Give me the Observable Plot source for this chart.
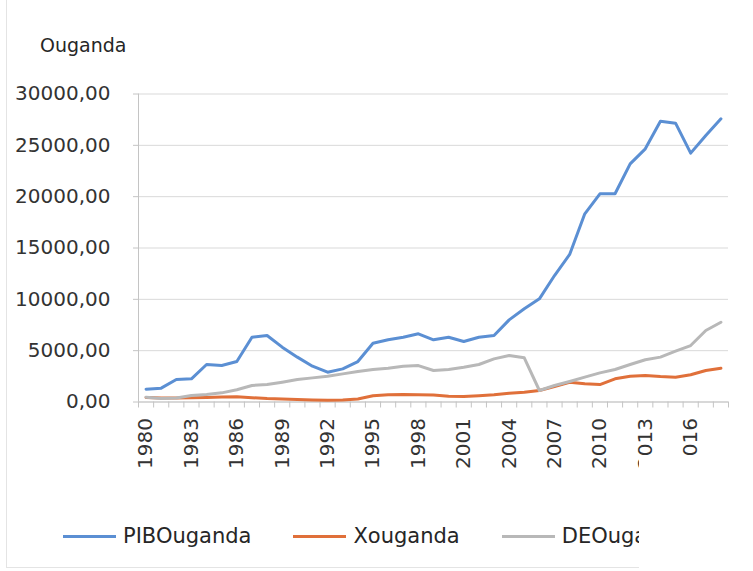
<!DOCTYPE html>
<html>
<head>
<meta charset="utf-8">
<script src="https://cdn.jsdelivr.net/npm/d3@7"></script>
<script src="https://cdn.jsdelivr.net/npm/@observablehq/plot@0.6"></script>
<style>
  html, body { margin: 0; padding: 0; background: #ffffff; }
  #wrap { position: relative; width: 753px; height: 571px; overflow: hidden; font-family: "DejaVu Sans", sans-serif; color: #262626; }
  #frame { position: absolute; left: 6px; top: 0; width: 632px; height: 567px; border-left: 1px solid #e4e4e4; border-bottom: 1px solid #e4e4e4; }
  #title { position: absolute; left: 40px; top: 36px; font-size: 19px; line-height: 1; }
  #chart { position: absolute; left: 0; top: 70px; }
  #legend { position: absolute; left: 63px; top: 521px; white-space: nowrap; display: flex; align-items: center; gap: 42px; font-size: 21px; line-height: 30px; }
  .item { display: flex; align-items: center; }
  .sw { display: inline-block; width: 53px; height: 3px; margin-right: 7px; }
  #mask { position: absolute; left: 639px; top: 456px; width: 114px; height: 115px; background: #ffffff; z-index: 2; }
</style>
</head>
<body>
<div id="wrap">
  <div id="frame"></div>
  <div id="title">Ouganda</div>
  <div id="chart"></div>
  <div id="legend"></div>
  <div id="mask"></div>
</div>
<script>
const years = d3.range(1980, 2019);
const pib = [1250, 1350, 2190, 2260, 3650, 3550, 3940, 6310, 6480, 5340, 4370, 3490, 2900, 3230, 3940, 5730, 6060, 6310, 6640, 6060, 6310, 5890, 6310, 6480, 8000, 9080, 10050, 12320, 14370, 18330, 20280, 20280, 23200, 24660, 27350, 27160, 24240, 25960, 27580];
const xou = [450, 400, 380, 420, 450, 480, 520, 420, 340, 300, 250, 200, 170, 200, 300, 600, 700, 720, 700, 680, 560, 540, 620, 700, 860, 960, 1120, 1510, 1930, 1770, 1700, 2260, 2510, 2580, 2480, 2420, 2650, 3070, 3290];
const deo = [470, 350, 380, 630, 730, 890, 1190, 1610, 1700, 1930, 2190, 2350, 2510, 2740, 2970, 3170, 3290, 3490, 3550, 3070, 3170, 3390, 3650, 4200, 4530, 4300, 1120, 1610, 2000, 2420, 2840, 3170, 3650, 4110, 4370, 4950, 5500, 6960, 7770];
const seriesNames = ["PIBOuganda", "Xouganda", "DEOuganda"];
const seriesColors = ["#5b8fd3", "#e0703a", "#b8b8b8"];
const yTicks = [0, 5000, 10000, 15000, 20000, 25000, 30000];
const xLabelYears = [1980, 1983, 1986, 1989, 1992, 1995, 1998, 2001, 2004, 2007, 2010, 2013, 2016];

const values = [pib, xou, deo];
const data = [];
seriesNames.forEach((s, k) => years.forEach((yr, i) => data.push({year: yr, v: values[k][i], s})));
const bounds = years.map(y => y - 0.5).concat([years[years.length - 1] + 0.5]);
const fmt = d => d.toFixed(2).replace(".", ",");

const chart = Plot.plot({
  width: 753,
  height: 420,
  marginLeft: 138,
  marginRight: 25,
  marginTop: 23.5,
  marginBottom: 88.5,
  style: {fontFamily: "DejaVu Sans, sans-serif", fontSize: "20px", color: "#333333", background: "transparent", overflow: "visible"},
  x: {domain: [1979.5, 2018.5]},
  y: {domain: [0, 30000]},
  color: {domain: seriesNames, range: seriesColors},
  marks: [
    Plot.gridY(yTicks, {stroke: "#d9d9d9", strokeOpacity: 1}),
    Plot.ruleX([bounds[0]], {stroke: "#c4c4c4"}),
    Plot.ruleY([0], {stroke: "#c4c4c4"}),
    Plot.axisY(yTicks, {tickSize: 5, tickPadding: 23, tickFormat: fmt, stroke: "#c4c4c4", label: null}),
    Plot.axisX(bounds, {tickSize: 6, tickFormat: () => "", stroke: "#c4c4c4", label: null}),
    Plot.axisX(xLabelYears, {tickSize: 0, tickPadding: 16, tickRotate: -90, tickFormat: d => String(d), label: null}),
    Plot.line(data, {x: "year", y: "v", stroke: "s", strokeWidth: 3})
  ]
});
document.getElementById("chart").appendChild(chart);

const legend = document.getElementById("legend");
seriesNames.forEach((s, k) => {
  const item = document.createElement("div");
  item.className = "item";
  const sw = document.createElement("span");
  sw.className = "sw";
  sw.style.background = seriesColors[k];
  const t = document.createElement("span");
  t.textContent = s;
  item.appendChild(sw);
  item.appendChild(t);
  legend.appendChild(item);
});
</script>
</body>
</html>
